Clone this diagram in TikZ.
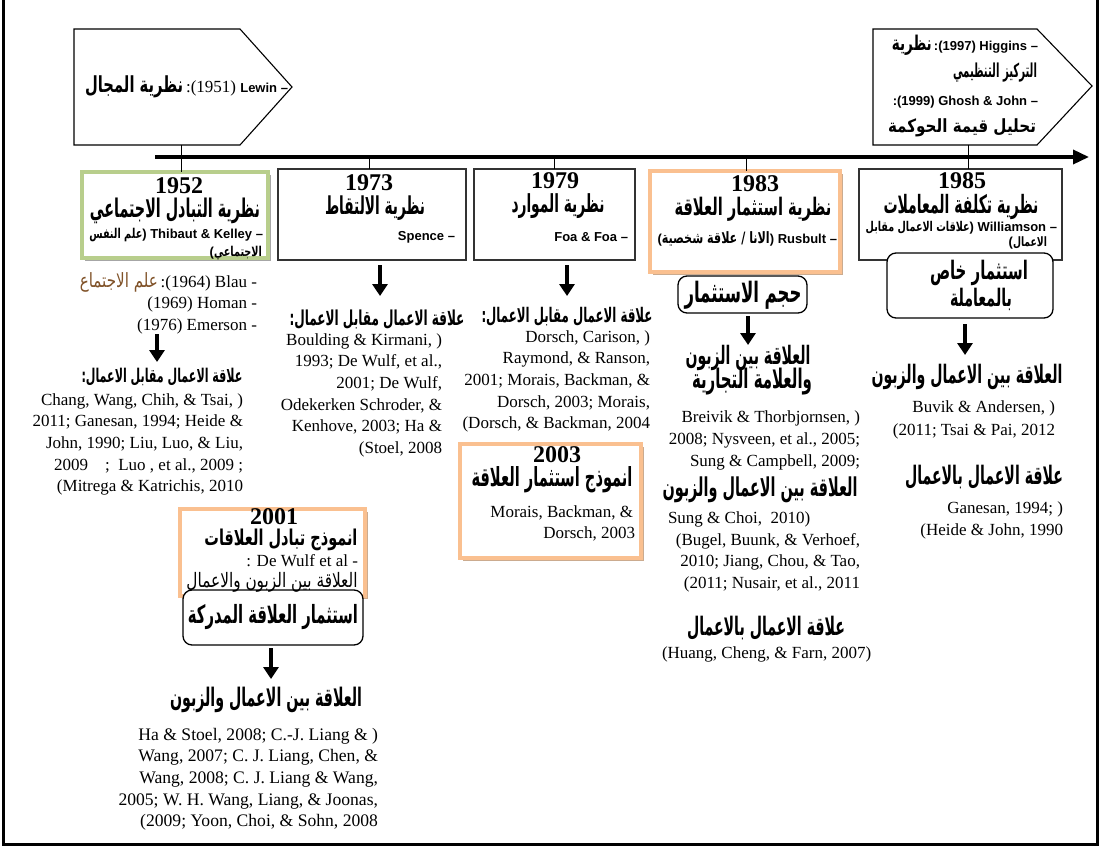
\documentclass[tikz,border=0pt]{standalone}
\usepackage{fontspec}
\usepackage{graphicx}
\usetikzlibrary{arrows.meta,shadows}
\setmainfont{Liberation Serif}
\newfontfamily\hv{Liberation Sans}
\newfontfamily\arb[Script=Arabic]{DejaVu Sans}
\TeXXeTstate=1
\definecolor{boxgreen}{RGB}{184,206,140}
\definecolor{boxorange}{RGB}{250,192,144}
\definecolor{shadowbrown}{RGB}{190,150,115}
\definecolor{brownar}{RGB}{128,82,40}
% Arabic text fitted to a given width, then stretched upright (bold / regular)
\newcommand\arB[3][1.6]{\scalebox{1}[#1]{\resizebox{#2}{!}{\arb\bfseries #3}}}
\newcommand\arN[3][1.5]{\scalebox{1}[#1]{\resizebox{#2}{!}{\arb #3}}}
\newcommand\nm[1]{{\hv\bfseries\fontsize{13}{15}\selectfont #1}}
\newcommand\yr[1]{{\bfseries\fontsize{24}{26}\selectfont #1}}
\begin{document}
\begin{tikzpicture}[x=1pt,y=-1pt,
  every node/.style={inner sep=0pt, outer sep=0pt},
  txt/.style={font=\fontsize{17}{20}\selectfont},
  reftxt/.style={font=\fontsize{17}{20}\selectfont},
  penta/.style={draw=black, line width=1.1pt},
  plainbox/.style={draw=black!80, line width=1.1pt, fill=white},
  greenbox/.style={draw=boxgreen, line width=4pt, fill=white,
    drop shadow={shadow xshift=2.5pt, shadow yshift=-2.5pt, fill=black, opacity=0.35}},
  orangebox/.style={draw=boxorange, line width=4pt, fill=white,
    drop shadow={shadow xshift=2.5pt, shadow yshift=-2.5pt, fill=shadowbrown, opacity=0.8}},
  roundbox/.style={draw=black, line width=1.3pt, rounded corners=9pt, fill=white},
  tick/.style={draw=black, line width=0.9pt},
  bigarrow/.style={draw=black, line width=4pt, -{Triangle[length=12pt,width=15pt]}},
]
\useasboundingbox (0,0) rectangle (1100,848);
\fill[white] (0,0) rectangle (1100,848);

% ---------- time axis ----------
\coordinate (tl0) at (155,157);
\coordinate (tl1) at (1089,157);
\draw[line width=3.5pt, -{Triangle[length=16pt,width=14pt]}] (tl0) -- (tl1);

% ---------- top call-outs ----------
\draw[penta] (74,29) -- (240,29) -- (292,87) -- (240,145) -- (74,145) -- cycle;
\coordinate (pL) at (181,145);
\draw[penta] (873,29) -- (1037,29) -- (1092,86) -- (1037,145) -- (873,145) -- cycle;
\coordinate (pR) at (968,145);
\draw[tick] (pL) -- (pL |- tl0);
\draw[tick] (pR) -- (pR |- tl0);

\node[txt, anchor=east] (lewin) at (288,87) {\arB[1.5]{98pt}{\beginR نظرية المجال\endR}\,:(1951) \nm{Lewin –}};
\node[anchor=east] (hig1) at (1038,45) {\arB[1.5]{40pt}{\beginR نظرية\endR}\nm{\,:(1997) Higgins –}};
\node[anchor=east] (hig2) at (1037,73) {\arB[1.9]{84pt}{\beginR التركيز التنظيمي\endR}};
\node[anchor=east] (gho1) at (1038,102) {\nm{:(1999) Ghosh \& John –}};
\node[anchor=east] (gho2) at (1036,128) {\arB[1.2]{148pt}{\beginR تحليل قيمة الحوكمة\endR}};

% ---------- theory boxes ----------
\node[greenbox, minimum width=186pt, minimum height=86pt] (b52) at (175,215) {};
\node[plainbox, minimum width=188pt, minimum height=91pt] (b73) at (372,214.5) {};
\node[plainbox, minimum width=161pt, minimum height=91pt] (b79) at (554.5,214.5) {};
\node[orangebox, minimum width=190pt, minimum height=101pt] (b83) at (745,221.5) {};
\node[plainbox, minimum width=203pt, minimum height=91pt] (b85) at (960.5,214.5) {};
\node[orangebox, minimum width=181pt, minimum height=114pt] (b03) at (550.5,501) {};
\node[orangebox, minimum width=185pt, minimum height=87pt] (b01) at (272.5,552.5) {};

\foreach \x/\b [count=\i] in {181/b52, 369/b73, 554/b79, 746/b83, 968/b85}{
  \coordinate (k\i) at (\x,157);
  \draw[tick] (k\i) -- (k\i |- \b.north);
}

\node[roundbox, minimum width=129pt, minimum height=37pt] (r83) at (742.5,294.5) {};
\node[roundbox, minimum width=166pt, minimum height=65pt] (r85) at (970,285.5) {};
\node[roundbox, minimum width=180pt, minimum height=55pt] (r01) at (273,617.5) {};

% 1952
\node (y52) at (179,186) {\yr{1952}};
\node (t52) at (175,211) {\arB[1.8]{170pt}{\beginR نظرية التبادل الاجتماعي\endR}};
\node[anchor=east] (n52a) at (263,235) {\arB[1.4]{53pt}{\beginR علم النفس\endR}\nm{) Thibaut \& Kelley –}};
\node[anchor=east] (n52b) at (262,253) {\nm{(}\arB[1.4]{48pt}{\beginR الاجتماعي\endR}};
% 1973
\node (y73) at (369,183) {\yr{1973}};
\node (t73) at (375,208) {\arB[1.8]{100pt}{\beginR نظرية الالتقاط\endR}};
\node[anchor=east] (n73) at (455,237) {\nm{Spence –}};
% 1979
\node (y79) at (555,181) {\yr{1979}};
\node (t79) at (558,206) {\arB[1.8]{93pt}{\beginR نظرية الموارد\endR}};
\node[anchor=east] (n79) at (628,237) {\nm{Foa \& Foa –}};
% 1983
\node (y83) at (755,184) {\yr{1983}};
\node (t83) at (753,209) {\arB[1.65]{157pt}{\beginR نظرية استثمار العلاقة\endR}};
\node[anchor=east] (n83) at (837,239) {\nm{(}\arB[1.4]{108pt}{\beginR الانا / علاقة شخصية\endR}\nm{) Rusbult –}};
% 1985
\node (y85) at (962,181) {\yr{1985}};
\node (t85) at (961,207) {\arB[1.8]{155pt}{\beginR نظرية تكلفة المعاملات\endR}};
\node[anchor=east] (n85a) at (1057,228) {\arB[1.4]{104pt}{\beginR علاقات الاعمال مقابل\endR}\nm{) Williamson –}};
\node[anchor=east] (n85b) at (1047,243) {\nm{(}\arB[1.4]{34pt}{\beginR الاعمال\endR}};

% rounded boxes
\node (r83t) at (743,295) {\arB[1.7]{117pt}{\beginR حجم الاستثمار\endR}};
\node (r85t1) at (979,273) {\arB[1.7]{98pt}{\beginR استثمار خاص\endR}};
\node (r85t2) at (981,299) {\arB[1.7]{62pt}{\beginR بالمعاملة\endR}};
\node (r01t) at (273,617) {\arB[1.7]{170pt}{\beginR استثمار العلاقة المدركة\endR}};

% ---------- down arrows ----------
\coordinate (a52s) at (157,334);  \coordinate (a52e) at (157,362);
\coordinate (a73s) at (380,265);  \coordinate (a73e) at (380,296);
\coordinate (a79s) at (567,265);  \coordinate (a79e) at (567,296);
\coordinate (a83s) at (748,316);  \coordinate (a83e) at (748,345);
\coordinate (a85s) at (965,324);  \coordinate (a85e) at (965,355);
\coordinate (a01s) at (271,648);  \coordinate (a01e) at (271,679);
\foreach \s/\e in {a52s/a52e, a73s/a73e, a79s/a79e, a83s/a83e, a85s/a85e, a01s/a01e}
  \draw[bigarrow] (\s) -- (\e);

% ---------- column 1952 ----------
\node[txt, anchor=base east] (bl1) at (257,287) {{\color{brownar}\arN[1.3]{78pt}{\beginR علم الاجتماع\endR}}\,:(1964) Blau -};
\node[txt, anchor=base east] (bl2) at (257,308) {(1969) Homan -};
\node[txt, anchor=base east] (bl3) at (257,330) {(1976) Emerson -};
\node (h52) at (162,377) {\arB[1.7]{161pt}{:\beginR علاقة الاعمال مقابل الاعمال\endR}};
\foreach \t [count=\i] in {{Chang, Wang, Chih, \& Tsai, )},{2011; Ganesan, 1994; Heide \&},{John, 1990; Liu, Luo, \& Liu,},{2009\quad;\ \ Luo , et al., 2009 ;},{(Mitrega \& Katrichis, 2010}}
  \node[reftxt, anchor=base east] (r52-\i) at (243,{405+(\i-1)*21.7}) {\t};

% ---------- column 1973 ----------
\node (h73) at (377,320) {\arB[1.7]{175pt}{:\beginR علاقة الاعمال مقابل الاعمال\endR}};
\foreach \t [count=\i] in {{Boulding \& Kirmani, )},{1993; De Wulf, et al.,},{2001; De Wulf,},{Odekerken Schroder, \&},{Kenhove, 2003; Ha \&},{(Stoel, 2008}}
  \node[reftxt, anchor=base east] (r73-\i) at (442,{345+(\i-1)*21.7}) {\t};

% ---------- column 1979 ----------
\node (h79) at (567,317) {\arB[1.7]{171pt}{:\beginR علاقة الاعمال مقابل الاعمال\endR}};
\foreach \t [count=\i] in {{Dorsch, Carison, )},{Raymond, \& Ranson,},{2001; Morais, Backman, \&},{Dorsch, 2003; Morais,},{(Dorsch, \& Backman, 2004}}
  \node[reftxt, anchor=base east] (r79-\i) at (650,{342+(\i-1)*21.7}) {\t};

% ---------- 2003 ----------
\node (y03) at (557,455) {\yr{2003}};
\node (t03) at (552,480) {\arB[1.8]{161pt}{\beginR انموذج استثمار العلاقة\endR}};
\node[txt, anchor=base east] (m03a) at (633,517) {Morais, Backman, \&};
\node[txt, anchor=base east] (m03b) at (635,538) {Dorsch, 2003};

% ---------- 2001 ----------
\node (y01) at (274,517) {\yr{2001}};
\node (t01) at (281,540) {\arB[1.5]{153pt}{\beginR انموذج تبادل العلاقات\endR}};
\node[txt, anchor=base east] (w01) at (358,566) {: De Wulf et al -};
\node (c01) at (272,582) {\arN[1.3]{171pt}{\beginR العلاقة بين الزبون والاعمال\endR}};

% ---------- column 1983 ----------
\node (h83a) at (748,358) {\arB[1.8]{125pt}{\beginR العلاقة بين الزبون\endR}};
\node (h83b) at (752,382) {\arB[1.8]{120pt}{\beginR والعلامة التجارية\endR}};
\foreach \t [count=\i] in {{Breivik \& Thorbjornsen, )},{2008; Nysveen, et al., 2005;},{Sung \& Campbell, 2009;}}
  \node[reftxt, anchor=base east] (r83-\i) at (860,{422+(\i-1)*22}) {\t};
\node (h83c) at (760,490) {\arB[1.8]{195pt}{\beginR العلاقة بين الاعمال والزبون\endR}};
\node[txt, anchor=base west] (s83) at (668,523) {Sung \& Choi,\ \ 2010)};
\foreach \t [count=\i] in {{(Bugel, Buunk, \& Verhoef,},{2010; Jiang, Chou, \& Tao,},{(2011; Nusair, et al., 2011}}
  \node[reftxt, anchor=base east] (q83-\i) at (860,{545+(\i-1)*21.7}) {\t};
\node (h83d) at (766,628) {\arB[1.8]{158pt}{\beginR علاقة الاعمال بالاعمال\endR}};
\node[txt, anchor=base west] (hu83) at (662,658) {(Huang, Cheng, \& Farn, 2007)};

% ---------- column 1985 ----------
\node (h85a) at (967,377) {\arB[1.8]{191pt}{\beginR العلاقة بين الاعمال والزبون\endR}};
\node[txt, anchor=base east] (r85-1) at (1055,412) {Buvik \& Andersen, )};
\node[txt, anchor=base east] (r85-2) at (1055,435) {(2011; Tsai \& Pai, 2012};
\node (h85b) at (984,477) {\arB[1.8]{158pt}{\beginR علاقة الاعمال بالاعمال\endR}};
\node[txt, anchor=base east] (q85-1) at (1063,513) {Ganesan, 1994; )};
\node[txt, anchor=base east] (q85-2) at (1063,535) {(Heide \& John, 1990};

% ---------- below 2001 ----------
\node (h01) at (266,700) {\arB[1.8]{192pt}{\beginR العلاقة بين الاعمال والزبون\endR}};
\foreach \t [count=\i] in {{Ha \& Stoel, 2008; C.-J. Liang \& )},{Wang, 2007; C. J. Liang, Chen, \&},{Wang, 2008; C. J. Liang \& Wang,},{2005; W. H. Wang, Liang, \& Joonas,},{(2009; Yoon, Choi, \& Sohn, 2008}}
  \node[reftxt, anchor=base east, font=\fontsize{17.6}{20}\selectfont] (r01-\i) at (378,{740+(\i-1)*21.7}) {\t};

% ---------- frame ----------
\draw[line width=3pt] (3,0) -- (3,844) -- (1097,844) -- (1097,0);
\end{tikzpicture}
\end{document}
